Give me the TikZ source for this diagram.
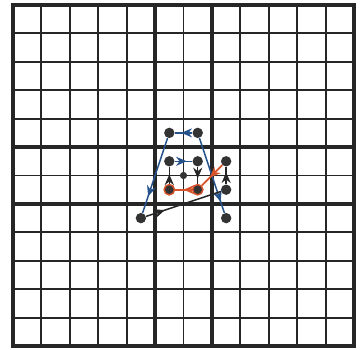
\documentclass[tikz,border=0pt]{standalone}
\usetikzlibrary{arrows.meta,decorations.markings}
\definecolor{traceblue}{RGB}{38,82,140}
\definecolor{traceorange}{RGB}{214,84,44}

\begin{document}
\begin{tikzpicture}[
  x=0.75cm, y=0.75cm,
  gridline/.style={line width=1.4pt, black!85},
  axisline/.style={line width=2.6pt, black!85, line cap=rect},
  dot/.style={circle, fill=black!80, inner sep=0pt, minimum size=7.8pt},
  smalldot/.style={dot, minimum size=5.4pt},
  hotdot/.style={dot, draw=traceorange, line width=1.1pt},
  midarrow/.style={postaction={decorate}, decoration={markings,
              mark=at position #1 with {\arrow{Stealth[length=2.8mm,width=2.4mm]}}}},
  blueline/.style={traceblue, line width=1.1pt},
  blackline/.style={black!85, line width=1.1pt},
  orangeline/.style={traceorange, line width=1.3pt}
]
\useasboundingbox (-0.457,-0.105) rectangle (12.28,12.175);

% ---------------------------------------------------------------------------
% Grid: thin cells, thick border and the two thick lines round the centre
% ---------------------------------------------------------------------------
\foreach \k in {1,...,11} {
  \draw[gridline] (\k,0) -- (\k,12);
  \draw[gridline] (0,\k) -- (12,\k);
}
\foreach \k in {5,7} {
  \draw[axisline] (\k,0) -- (\k,12);
  \draw[axisline] (0,\k) -- (12,\k);
}
\draw[axisline] (0,0) rectangle (12,12);

% ---------------------------------------------------------------------------
% Points
% ---------------------------------------------------------------------------
\node[dot] (A) at (4.5,4.5) {};
\node[dot] (B) at (5.5,7.5) {};
\node[dot] (C) at (6.5,7.5) {};
\node[dot] (D) at (7.5,4.5) {};
\node[dot] (E) at (5.5,6.5) {};
\node[dot] (F) at (6.5,6.5) {};
\node[smalldot] (G) at (6,6) {};
\node[hotdot] (H) at (5.5,5.5) {};
\node[hotdot] (I) at (6.5,5.5) {};
\node[dot] (J) at (7.5,6.5) {};
\node[dot] (K) at (7.5,5.5) {};

% ---------------------------------------------------------------------------
% Outer (blue) trapezoid
% ---------------------------------------------------------------------------
\draw[blueline, midarrow=0.62] (C) -- (B);
\draw[blueline, midarrow=0.78] (B) -- (A);
\draw[blueline, midarrow=0.85] (C) -- (D);
\draw[blueline, midarrow=0.68] (E) -- (F);

% Inner vertical steps and the long black return
\draw[blackline, midarrow=0.55] (H) -- (E);
\draw[blackline, midarrow=0.68] (F) -- (I);
\draw[blackline, midarrow=0.68] (K) -- (J);
\draw[blackline, midarrow=0.25] (A) -- (K);

% Orange path
\draw[orangeline, midarrow=0.6] (J) -- (I);
\draw[orangeline, midarrow=0.5] (I) -- (H);

\end{tikzpicture}
\end{document}
